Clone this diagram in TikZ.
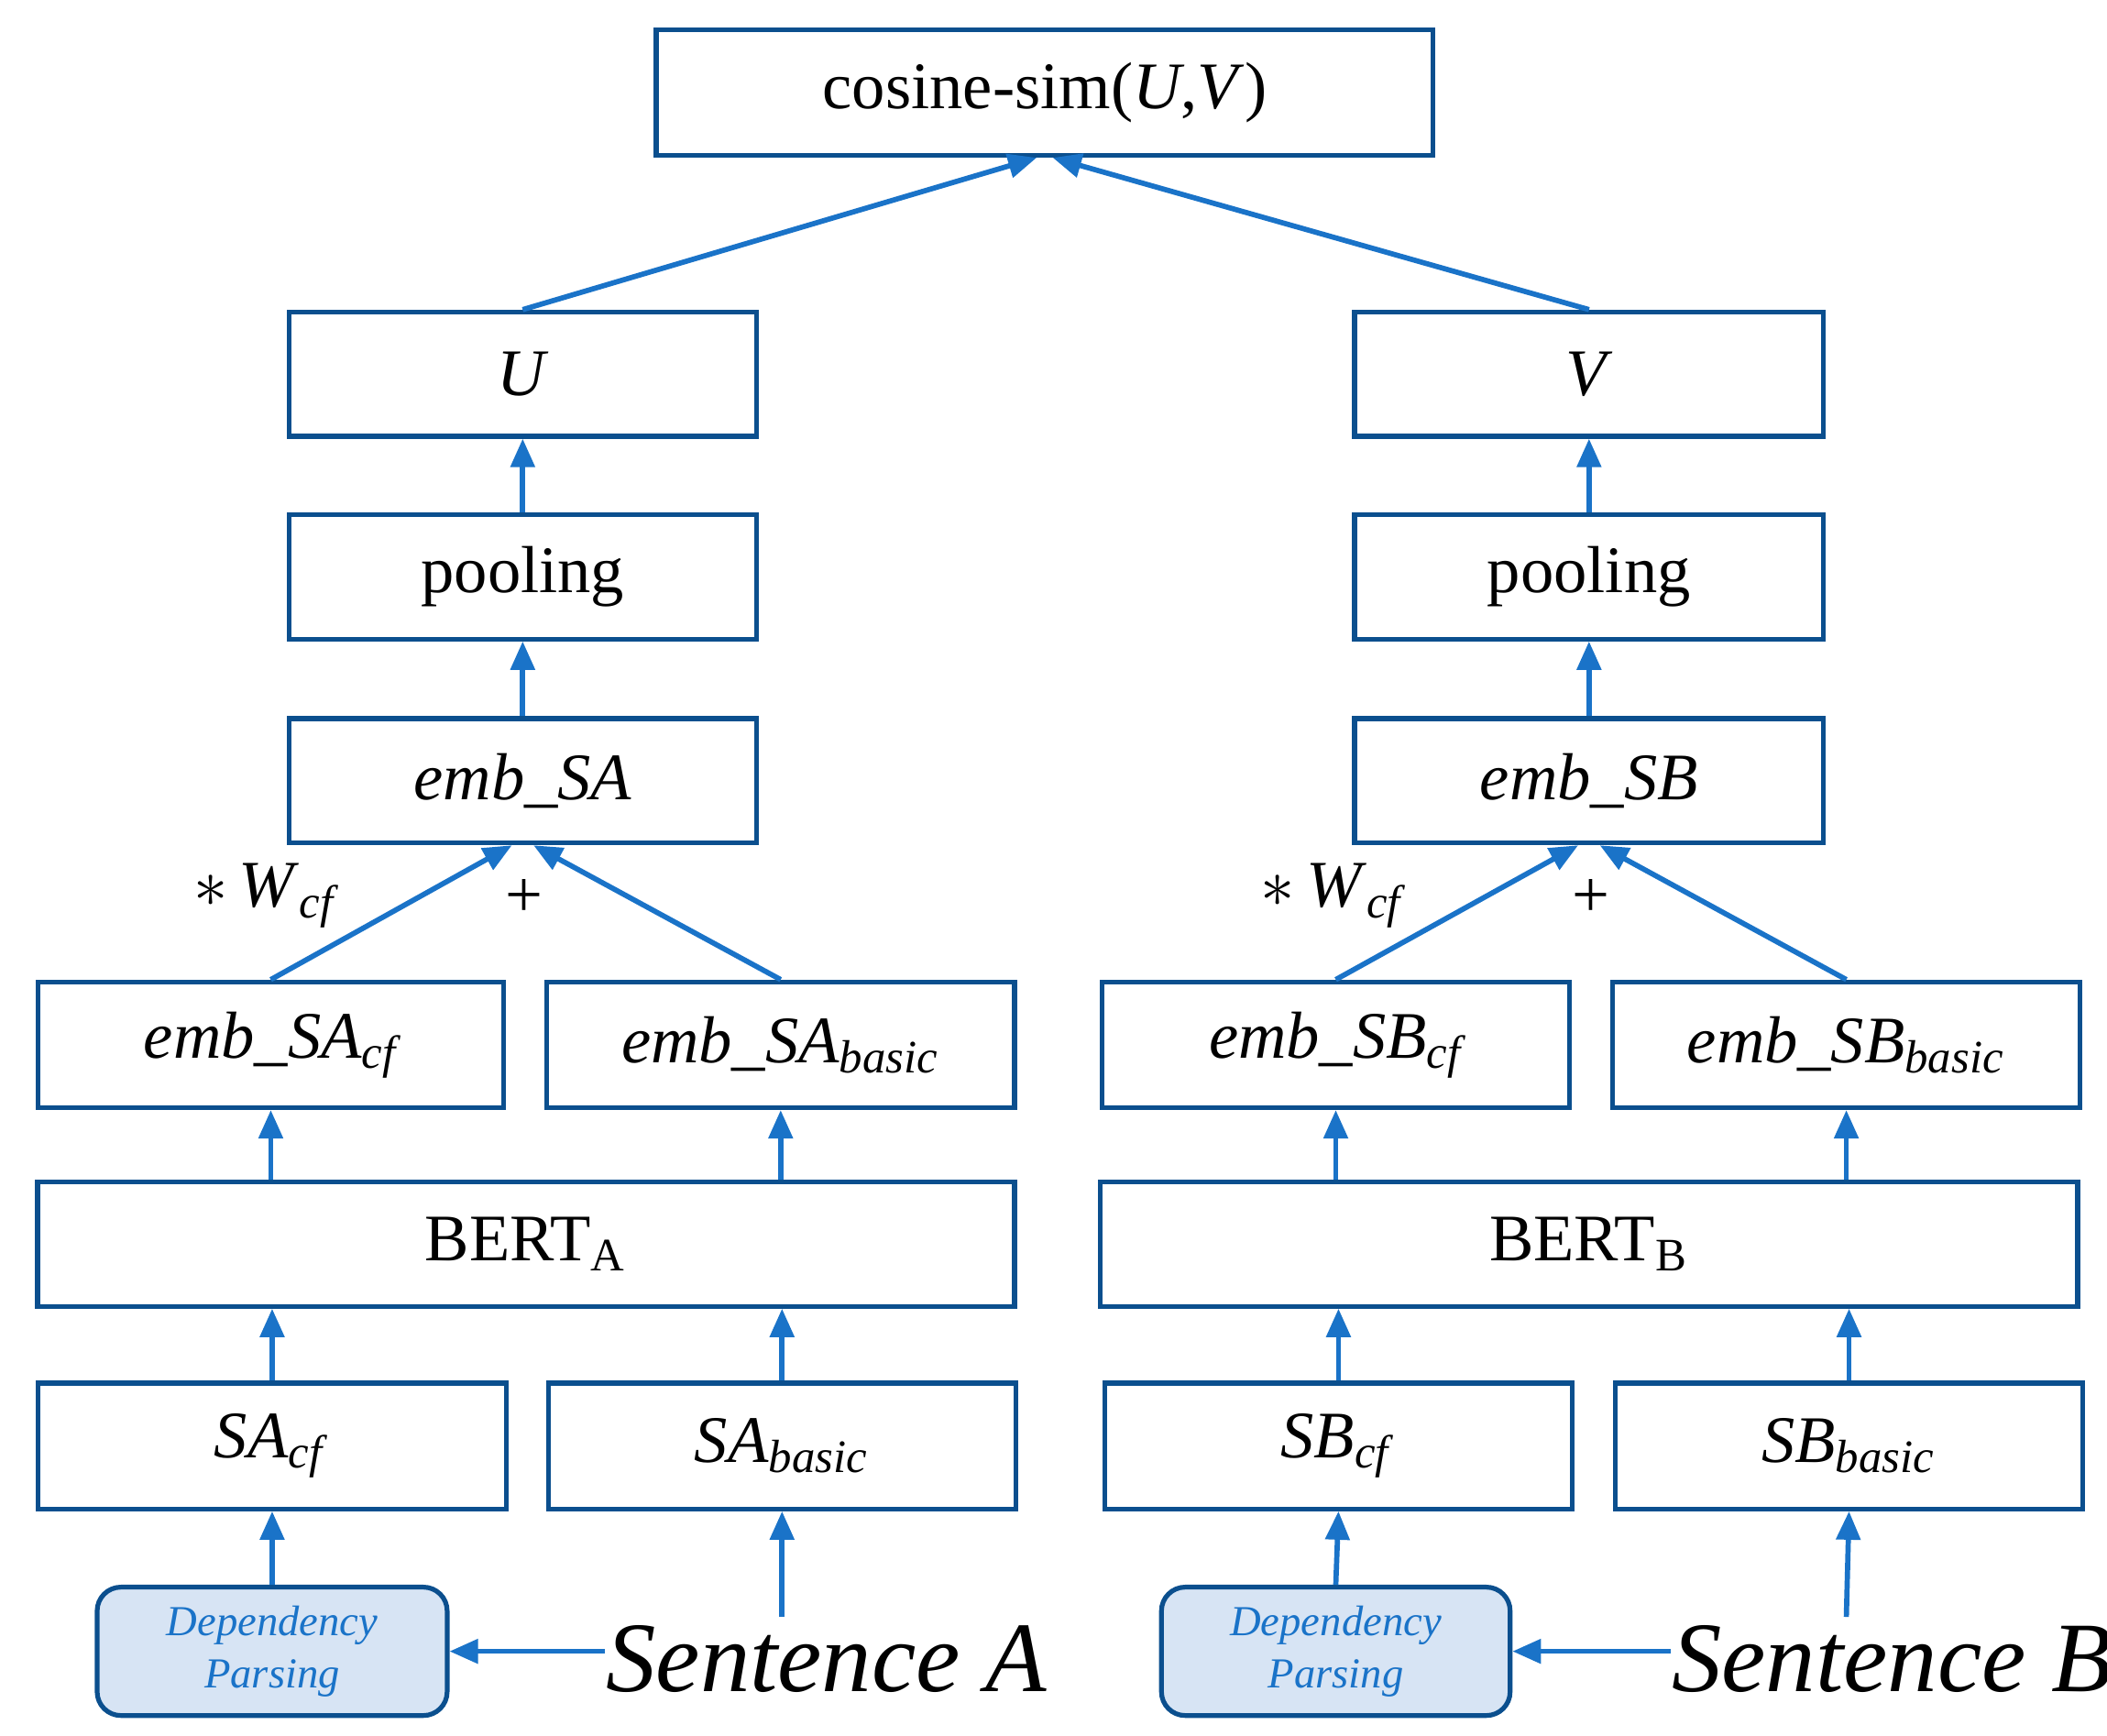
\documentclass[tikz,border=0pt]{standalone}
\usepackage{fontspec}
\setmainfont{Liberation Serif}
\usetikzlibrary{arrows.meta}
\definecolor{bdr}{HTML}{0B4F8E}
\definecolor{arr}{HTML}{1A73C8}
\definecolor{dpf}{HTML}{D7E4F4}
\newcommand{\sbs}[1]{\textsubscript{\textit{#1}}}
\begin{document}
\begin{tikzpicture}[x=0.01cm,y=-0.01cm,
  box/.style={draw=bdr,line width=1pt,inner sep=0pt,font=\fontsize{14}{16}\selectfont},
  dep/.style={draw=bdr,line width=1pt,fill=dpf,rounded corners=5pt,inner sep=0pt,text=arr,align=center,font=\fontsize{9}{11}\selectfont\itshape},
  ar/.style={draw=arr,line width=1.1pt,-{Triangle[length=6pt,width=5pt]}},
  sent/.style={inner sep=0pt,font=\fontsize{21}{24}\selectfont\itshape}]
\useasboundingbox (0,0) rectangle (1560,1285);
% boxes
\node[box,minimum width=5.75cm,minimum height=0.93cm] (cos) at (773.5,68.5) {cosine-sim(\textit{U},\textit{V})};
\node[box,minimum width=3.46cm,minimum height=0.92cm] (U) at (387,277) {\textit{U}};
\node[box,minimum width=3.47cm,minimum height=0.92cm] (V) at (1176.5,277) {\textit{V}};
\node[box,minimum width=3.46cm,minimum height=0.92cm] (pA) at (387,427) {pooling};
\node[box,minimum width=3.47cm,minimum height=0.92cm] (pB) at (1176.5,427) {pooling};
\node[box,minimum width=3.46cm,minimum height=0.92cm] (eA) at (387,578) {\itshape emb\_SA};
\node[box,minimum width=3.47cm,minimum height=0.92cm] (eB) at (1176.5,578) {\itshape emb\_SB};
\node[box,minimum width=3.45cm,minimum height=0.93cm] (eAc) at (200.5,773.5) {\itshape emb\_SA\sbs{cf}};
\node[box,minimum width=3.46cm,minimum height=0.93cm] (eAb) at (578,773.5) {\itshape emb\_SA\sbs{basic}};
\node[box,minimum width=3.46cm,minimum height=0.93cm] (eBc) at (989,773.5) {\itshape emb\_SB\sbs{cf}};
\node[box,minimum width=3.46cm,minimum height=0.93cm] (eBb) at (1367,773.5) {\itshape emb\_SB\sbs{basic}};
\node[box,minimum width=7.23cm,minimum height=0.92cm] (bA) at (389.5,921) {BERT\textsubscript{A}};
\node[box,minimum width=7.23cm,minimum height=0.92cm] (bB) at (1176.5,921) {BERT\textsubscript{B}};
\node[box,minimum width=3.47cm,minimum height=0.93cm] (sAc) at (201.5,1070.5) {\textit{SA}\sbs{cf}};
\node[box,minimum width=3.46cm,minimum height=0.93cm] (sAb) at (579,1070.5) {\textit{SA}\sbs{basic}};
\node[box,minimum width=3.46cm,minimum height=0.93cm] (sBc) at (991,1070.5) {\textit{SB}\sbs{cf}};
\node[box,minimum width=3.46cm,minimum height=0.93cm] (sBb) at (1369,1070.5) {\textit{SB}\sbs{basic}};
\node[dep,minimum width=2.59cm,minimum height=0.95cm] (dA) at (201.5,1222.5) {Dependency\\Parsing};
\node[dep,minimum width=2.58cm,minimum height=0.95cm] (dB) at (989,1222.5) {Dependency\\Parsing};
\node[sent,anchor=west] (snA) at (448,1228) {Sentence A};
\node[sent,anchor=west] (snB) at (1237,1228) {Sentence B};
\coordinate (tA) at (579,1197);
\coordinate (tB) at (1367,1197);
\node[font=\fontsize{14}{16}\selectfont] (wA) at (198,663) {$*$\,\textit{W}\sbs{cf}};
\node[font=\fontsize{14}{16}\selectfont] (plA) at (388,665) {+};
\node[font=\fontsize{14}{16}\selectfont] (wB) at (988,663) {$*$\,\textit{W}\sbs{cf}};
\node[font=\fontsize{14}{16}\selectfont] (plB) at (1178,665) {+};
% connectors
\draw[ar] (U.north) -- ([xshift=-0.06cm]cos.south);
\draw[ar] (V.north) -- ([xshift=0.06cm]cos.south);
\draw[ar] (pA) -- (U); \draw[ar] (pB) -- (V);
\draw[ar] (eA) -- (pA); \draw[ar] (eB) -- (pB);
\draw[ar] (eAc.north) -- ([xshift=-0.08cm]eA.south);
\draw[ar] (eAb.north) -- ([xshift=0.08cm]eA.south);
\draw[ar] (eBc.north) -- ([xshift=-0.08cm]eB.south);
\draw[ar] (eBb.north) -- ([xshift=0.08cm]eB.south);
\foreach \t in {eAc,eAb}{\draw[ar] (bA.north -| \t) -- (\t.south);}
\foreach \t in {eBc,eBb}{\draw[ar] (bB.north -| \t) -- (\t.south);}
\foreach \t in {sAc,sAb}{\draw[ar] (\t.north) -- (bA.south -| \t);}
\foreach \t in {sBc,sBb}{\draw[ar] (\t.north) -- (bB.south -| \t);}
\draw[ar] (dA.north) -- (sAc.south);
\draw[ar] (dB.north) -- (sBc.south);
\draw[ar] (tA) -- (sAb.south);
\draw[ar] (tB) -- (sBb.south);
\draw[ar] (snA.west |- dA.east) -- (dA.east);
\draw[ar] (snB.west |- dB.east) -- (dB.east);
\end{tikzpicture}
\end{document}
